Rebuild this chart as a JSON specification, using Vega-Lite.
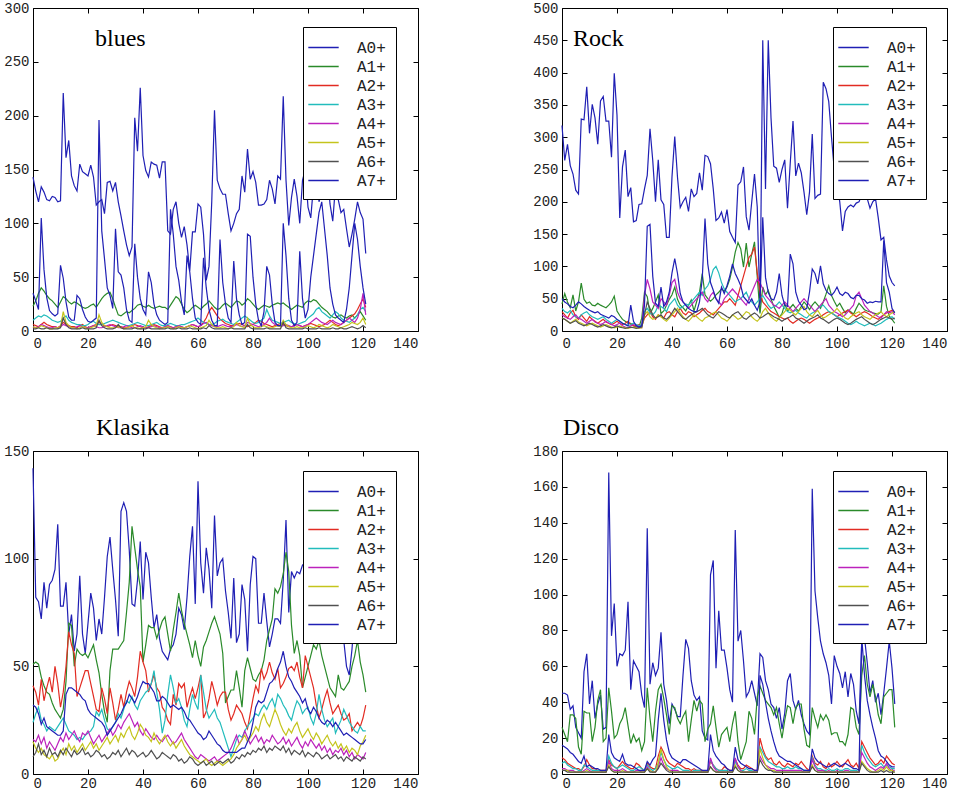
{
"$schema":"https://vega.github.io/schema/vega-lite/v6.json",
"background":"white",
"padding":{"left":3,"top":0,"right":0,"bottom":0},
"config":{
 "view":{"stroke":"black","strokeWidth":1},
 "axis":{"domain":false,"grid":false,"labelFont":"Liberation Mono","labelFontSize":14,"labelColor":"#222","tickColor":"#000","tickSize":-5},
 "axisX":{"labelPadding":10},
 "axisY":{"labelPadding":9},
 "legend":{"title":null,"strokeColor":"black","fillColor":"white","padding":10,"symbolType":"M-1.6,0L1.6,0","symbolStrokeWidth":1.5,"symbolSize":361,"labelFont":"Liberation Mono","labelFontSize":16,"labelColor":"#222","labelOffset":23,"rowPadding":0,"cornerRadius":0},
 "title":{"font":"Liberation Serif","fontSize":24,"fontWeight":"normal","color":"black"}
},
"datasets":{
"blues":[
{"x":0,"a":143,"b":23,"c":6,"d":10,"e":4,"f":4,"g":2,"h":35},
{"x":1,"a":130,"b":28,"c":5,"d":12,"e":3,"f":3,"g":2,"h":28},
{"x":2,"a":120,"b":35,"c":4,"d":14,"e":4,"f":3,"g":3,"h":20},
{"x":3,"a":134,"b":40,"c":6,"d":13,"e":6,"f":5,"g":2,"h":105},
{"x":4,"a":129,"b":37,"c":8,"d":15,"e":5,"f":4,"g":2,"h":57},
{"x":5,"a":122,"b":33,"c":6,"d":14,"e":4,"f":3,"g":3,"h":31},
{"x":6,"a":121,"b":30,"c":5,"d":12,"e":3,"f":2,"g":2,"h":19},
{"x":7,"a":125,"b":28,"c":4,"d":10,"e":3,"f":2,"g":2,"h":16},
{"x":8,"a":124,"b":25,"c":4,"d":9,"e":4,"f":3,"g":2,"h":14},
{"x":9,"a":120,"b":22,"c":3,"d":8,"e":3,"f":3,"g":2,"h":16},
{"x":10,"a":121,"b":27,"c":5,"d":9,"e":4,"f":4,"g":3,"h":61},
{"x":11,"a":221,"b":32,"c":8,"d":12,"e":6,"f":18,"g":12,"h":49},
{"x":12,"a":161,"b":30,"c":6,"d":14,"e":5,"f":8,"g":6,"h":27},
{"x":13,"a":177,"b":27,"c":5,"d":10,"e":4,"f":5,"g":3,"h":13},
{"x":14,"a":144,"b":25,"c":4,"d":8,"e":3,"f":3,"g":2,"h":10},
{"x":15,"a":135,"b":27,"c":4,"d":7,"e":3,"f":3,"g":2,"h":10},
{"x":16,"a":130,"b":26,"c":3,"d":6,"e":4,"f":2,"g":2,"h":33},
{"x":17,"a":155,"b":24,"c":5,"d":6,"e":5,"f":3,"g":2,"h":30},
{"x":18,"a":148,"b":22,"c":6,"d":5,"e":4,"f":4,"g":3,"h":20},
{"x":19,"a":146,"b":21,"c":4,"d":5,"e":3,"f":3,"g":2,"h":13},
{"x":20,"a":144,"b":22,"c":3,"d":6,"e":3,"f":2,"g":2,"h":9},
{"x":21,"a":154,"b":24,"c":4,"d":8,"e":4,"f":3,"g":2,"h":8},
{"x":22,"a":143,"b":25,"c":5,"d":9,"e":5,"f":4,"g":2,"h":10},
{"x":23,"a":117,"b":22,"c":6,"d":7,"e":4,"f":5,"g":3,"h":12},
{"x":24,"a":120,"b":26,"c":8,"d":6,"e":3,"f":15,"g":10,"h":196},
{"x":25,"a":122,"b":30,"c":6,"d":6,"e":3,"f":8,"g":5,"h":93},
{"x":26,"a":109,"b":33,"c":5,"d":7,"e":4,"f":5,"g":3,"h":67},
{"x":27,"a":138,"b":35,"c":4,"d":8,"e":5,"f":4,"g":2,"h":40},
{"x":28,"a":139,"b":36,"c":5,"d":9,"e":6,"f":3,"g":2,"h":33},
{"x":29,"a":130,"b":30,"c":6,"d":10,"e":5,"f":3,"g":2,"h":21},
{"x":30,"a":138,"b":22,"c":5,"d":9,"e":4,"f":3,"g":3,"h":95},
{"x":31,"a":120,"b":15,"c":4,"d":8,"e":3,"f":4,"g":6,"h":55},
{"x":32,"a":107,"b":14,"c":4,"d":7,"e":3,"f":3,"g":3,"h":52},
{"x":33,"a":93,"b":16,"c":3,"d":6,"e":4,"f":2,"g":2,"h":40},
{"x":34,"a":80,"b":18,"c":3,"d":5,"e":5,"f":3,"g":2,"h":20},
{"x":35,"a":70,"b":17,"c":4,"d":5,"e":4,"f":4,"g":2,"h":10},
{"x":36,"a":78,"b":19,"c":5,"d":6,"e":3,"f":5,"g":2,"h":8},
{"x":37,"a":198,"b":21,"c":6,"d":7,"e":3,"f":3,"g":3,"h":81},
{"x":38,"a":167,"b":24,"c":5,"d":8,"e":4,"f":3,"g":2,"h":50},
{"x":39,"a":226,"b":25,"c":4,"d":7,"e":5,"f":2,"g":2,"h":30},
{"x":40,"a":163,"b":23,"c":3,"d":6,"e":4,"f":3,"g":2,"h":20},
{"x":41,"a":149,"b":22,"c":3,"d":5,"e":3,"f":4,"g":2,"h":15},
{"x":42,"a":143,"b":24,"c":4,"d":5,"e":3,"f":10,"g":3,"h":55},
{"x":43,"a":157,"b":22,"c":5,"d":6,"e":4,"f":6,"g":2,"h":45},
{"x":44,"a":155,"b":21,"c":6,"d":7,"e":5,"f":4,"g":2,"h":25},
{"x":45,"a":154,"b":22,"c":5,"d":8,"e":4,"f":3,"g":2,"h":15},
{"x":46,"a":142,"b":23,"c":4,"d":6,"e":3,"f":2,"g":2,"h":10},
{"x":47,"a":157,"b":22,"c":3,"d":5,"e":3,"f":3,"g":2,"h":8},
{"x":48,"a":157,"b":22,"c":4,"d":5,"e":4,"f":3,"g":2,"h":6},
{"x":49,"a":93,"b":20,"c":5,"d":6,"e":5,"f":4,"g":3,"h":8},
{"x":50,"a":90,"b":24,"c":4,"d":7,"e":4,"f":3,"g":2,"h":113},
{"x":51,"a":113,"b":28,"c":3,"d":6,"e":3,"f":2,"g":2,"h":90},
{"x":52,"a":120,"b":32,"c":4,"d":5,"e":4,"f":3,"g":2,"h":60},
{"x":53,"a":100,"b":30,"c":5,"d":5,"e":5,"f":4,"g":3,"h":47},
{"x":54,"a":87,"b":25,"c":4,"d":6,"e":4,"f":3,"g":2,"h":27},
{"x":55,"a":97,"b":20,"c":3,"d":6,"e":3,"f":3,"g":2,"h":15},
{"x":56,"a":80,"b":17,"c":4,"d":7,"e":4,"f":4,"g":2,"h":70},
{"x":57,"a":56,"b":19,"c":5,"d":8,"e":5,"f":5,"g":3,"h":55},
{"x":58,"a":92,"b":22,"c":6,"d":9,"e":6,"f":4,"g":2,"h":30},
{"x":59,"a":92,"b":24,"c":5,"d":10,"e":5,"f":3,"g":2,"h":12},
{"x":60,"a":118,"b":22,"c":4,"d":12,"e":4,"f":2,"g":2,"h":8},
{"x":61,"a":115,"b":20,"c":5,"d":10,"e":5,"f":3,"g":2,"h":6},
{"x":62,"a":90,"b":23,"c":8,"d":8,"e":7,"f":4,"g":3,"h":68},
{"x":63,"a":47,"b":25,"c":12,"d":7,"e":8,"f":5,"g":2,"h":40},
{"x":64,"a":60,"b":28,"c":18,"d":6,"e":6,"f":10,"g":5,"h":20},
{"x":65,"a":120,"b":25,"c":22,"d":6,"e":5,"f":6,"g":3,"h":10},
{"x":66,"a":205,"b":22,"c":18,"d":7,"e":4,"f":4,"g":2,"h":5},
{"x":67,"a":140,"b":20,"c":14,"d":9,"e":4,"f":3,"g":2,"h":5},
{"x":68,"a":132,"b":21,"c":11,"d":10,"e":5,"f":3,"g":2,"h":85},
{"x":69,"a":127,"b":24,"c":9,"d":11,"e":6,"f":4,"g":2,"h":45},
{"x":70,"a":127,"b":26,"c":7,"d":9,"e":5,"f":3,"g":2,"h":25},
{"x":71,"a":109,"b":24,"c":6,"d":8,"e":4,"f":2,"g":2,"h":12},
{"x":72,"a":93,"b":22,"c":5,"d":7,"e":4,"f":3,"g":3,"h":8},
{"x":73,"a":100,"b":25,"c":5,"d":6,"e":5,"f":4,"g":2,"h":65},
{"x":74,"a":109,"b":28,"c":6,"d":8,"e":6,"f":8,"g":2,"h":30},
{"x":75,"a":113,"b":27,"c":7,"d":10,"e":5,"f":5,"g":2,"h":15},
{"x":76,"a":144,"b":24,"c":6,"d":12,"e":4,"f":4,"g":2,"h":6},
{"x":77,"a":129,"b":26,"c":5,"d":14,"e":5,"f":3,"g":2,"h":8},
{"x":78,"a":169,"b":30,"c":4,"d":12,"e":8,"f":12,"g":6,"h":90},
{"x":79,"a":141,"b":28,"c":5,"d":10,"e":7,"f":6,"g":3,"h":88},
{"x":80,"a":148,"b":25,"c":6,"d":8,"e":6,"f":4,"g":2,"h":50},
{"x":81,"a":138,"b":22,"c":8,"d":7,"e":5,"f":3,"g":2,"h":25},
{"x":82,"a":117,"b":20,"c":10,"d":8,"e":4,"f":3,"g":2,"h":10},
{"x":83,"a":117,"b":22,"c":9,"d":10,"e":5,"f":4,"g":2,"h":5},
{"x":84,"a":118,"b":24,"c":7,"d":12,"e":6,"f":5,"g":2,"h":18},
{"x":85,"a":122,"b":23,"c":6,"d":20,"e":8,"f":4,"g":3,"h":60},
{"x":86,"a":140,"b":22,"c":5,"d":14,"e":12,"f":3,"g":2,"h":52},
{"x":87,"a":132,"b":24,"c":4,"d":10,"e":8,"f":3,"g":2,"h":25},
{"x":88,"a":118,"b":25,"c":5,"d":9,"e":6,"f":4,"g":2,"h":8},
{"x":89,"a":144,"b":26,"c":6,"d":8,"e":5,"f":5,"g":2,"h":5},
{"x":90,"a":141,"b":25,"c":7,"d":7,"e":4,"f":4,"g":2,"h":5},
{"x":91,"a":218,"b":26,"c":6,"d":8,"e":5,"f":10,"g":8,"h":100},
{"x":92,"a":140,"b":24,"c":5,"d":9,"e":6,"f":6,"g":3,"h":70},
{"x":93,"a":98,"b":22,"c":4,"d":10,"e":5,"f":4,"g":2,"h":30},
{"x":94,"a":124,"b":20,"c":4,"d":8,"e":4,"f":3,"g":2,"h":10},
{"x":95,"a":141,"b":22,"c":5,"d":7,"e":5,"f":3,"g":2,"h":5},
{"x":96,"a":125,"b":24,"c":6,"d":6,"e":6,"f":4,"g":2,"h":8},
{"x":97,"a":100,"b":23,"c":5,"d":7,"e":5,"f":3,"g":2,"h":74},
{"x":98,"a":140,"b":22,"c":4,"d":8,"e":4,"f":3,"g":2,"h":30},
{"x":99,"a":150,"b":26,"c":5,"d":9,"e":5,"f":4,"g":3,"h":12},
{"x":100,"a":115,"b":28,"c":6,"d":12,"e":6,"f":5,"g":2,"h":20},
{"x":101,"a":105,"b":27,"c":7,"d":14,"e":8,"f":4,"g":2,"h":50},
{"x":102,"a":135,"b":29,"c":6,"d":16,"e":10,"f":3,"g":2,"h":70},
{"x":103,"a":150,"b":28,"c":5,"d":20,"e":12,"f":4,"g":2,"h":90},
{"x":104,"a":120,"b":25,"c":4,"d":22,"e":10,"f":6,"g":3,"h":110},
{"x":105,"a":130,"b":22,"c":5,"d":18,"e":8,"f":5,"g":2,"h":120},
{"x":106,"a":145,"b":20,"c":6,"d":16,"e":7,"f":4,"g":2,"h":95},
{"x":107,"a":150,"b":18,"c":8,"d":14,"e":6,"f":3,"g":2,"h":70},
{"x":108,"a":118,"b":15,"c":10,"d":12,"e":8,"f":4,"g":2,"h":40},
{"x":109,"a":102,"b":13,"c":8,"d":15,"e":10,"f":6,"g":3,"h":25},
{"x":110,"a":135,"b":12,"c":6,"d":18,"e":8,"f":5,"g":2,"h":15},
{"x":111,"a":122,"b":14,"c":5,"d":16,"e":7,"f":4,"g":2,"h":12},
{"x":112,"a":110,"b":15,"c":6,"d":12,"e":6,"f":3,"g":3,"h":10},
{"x":113,"a":113,"b":13,"c":8,"d":10,"e":8,"f":4,"g":2,"h":8},
{"x":114,"a":95,"b":12,"c":10,"d":9,"e":10,"f":5,"g":2,"h":20},
{"x":115,"a":78,"b":14,"c":12,"d":8,"e":12,"f":6,"g":3,"h":40},
{"x":116,"a":90,"b":15,"c":14,"d":10,"e":10,"f":8,"g":4,"h":70},
{"x":117,"a":104,"b":12,"c":16,"d":12,"e":8,"f":7,"g":3,"h":100},
{"x":118,"a":120,"b":15,"c":20,"d":15,"e":12,"f":6,"g":2,"h":85},
{"x":119,"a":110,"b":18,"c":25,"d":20,"e":20,"f":8,"g":3,"h":60},
{"x":120,"a":104,"b":14,"c":30,"d":22,"e":35,"f":12,"g":5,"h":40},
{"x":121,"a":72,"b":10,"c":22,"d":18,"e":15,"f":6,"g":3,"h":25}
],
"rock":[
{"x":0,"a":318,"b":42,"c":30,"d":35,"e":25,"f":20,"g":20,"h":50},
{"x":1,"a":264,"b":58,"c":25,"d":30,"e":22,"f":18,"g":18,"h":45},
{"x":2,"a":289,"b":45,"c":20,"d":28,"e":20,"f":15,"g":15,"h":42},
{"x":3,"a":256,"b":36,"c":28,"d":32,"e":18,"f":12,"g":12,"h":38},
{"x":4,"a":243,"b":56,"c":32,"d":25,"e":22,"f":15,"g":14,"h":36},
{"x":5,"a":218,"b":31,"c":22,"d":22,"e":25,"f":18,"g":16,"h":40},
{"x":6,"a":212,"b":45,"c":18,"d":20,"e":20,"f":14,"g":12,"h":45},
{"x":7,"a":328,"b":74,"c":25,"d":25,"e":18,"f":12,"g":10,"h":42},
{"x":8,"a":327,"b":49,"c":20,"d":28,"e":15,"f":10,"g":8,"h":38},
{"x":9,"a":378,"b":43,"c":15,"d":30,"e":12,"f":8,"g":10,"h":35},
{"x":10,"a":306,"b":45,"c":22,"d":25,"e":15,"f":10,"g":12,"h":32},
{"x":11,"a":351,"b":40,"c":18,"d":22,"e":18,"f":12,"g":10,"h":30},
{"x":12,"a":330,"b":39,"c":15,"d":20,"e":14,"f":10,"g":8,"h":28},
{"x":13,"a":289,"b":43,"c":12,"d":18,"e":12,"f":8,"g":6,"h":30},
{"x":14,"a":356,"b":40,"c":15,"d":20,"e":10,"f":6,"g":8,"h":26},
{"x":15,"a":363,"b":38,"c":18,"d":22,"e":12,"f":8,"g":10,"h":24},
{"x":16,"a":325,"b":36,"c":14,"d":18,"e":15,"f":10,"g":8,"h":22},
{"x":17,"a":325,"b":40,"c":12,"d":15,"e":12,"f":8,"g":6,"h":20},
{"x":18,"a":269,"b":45,"c":10,"d":12,"e":10,"f":6,"g":5,"h":24},
{"x":19,"a":399,"b":54,"c":12,"d":15,"e":8,"f":5,"g":6,"h":22},
{"x":20,"a":334,"b":31,"c":15,"d":18,"e":10,"f":6,"g":8,"h":18},
{"x":21,"a":175,"b":24,"c":12,"d":15,"e":12,"f":8,"g":6,"h":15},
{"x":22,"a":254,"b":18,"c":10,"d":12,"e":8,"f":6,"g":5,"h":12},
{"x":23,"a":280,"b":15,"c":12,"d":10,"e":6,"f":5,"g":4,"h":10},
{"x":24,"a":208,"b":12,"c":15,"d":8,"e":5,"f":4,"g":5,"h":8},
{"x":25,"a":222,"b":12,"c":10,"d":10,"e":8,"f":5,"g":6,"h":40},
{"x":26,"a":169,"b":8,"c":8,"d":12,"e":10,"f":6,"g":5,"h":15},
{"x":27,"a":171,"b":6,"c":8,"d":10,"e":8,"f":5,"g":4,"h":8},
{"x":28,"a":196,"b":6,"c":10,"d":8,"e":6,"f":4,"g":5,"h":6},
{"x":29,"a":197,"b":20,"c":8,"d":10,"e":5,"f":5,"g":6,"h":8},
{"x":30,"a":220,"b":60,"c":20,"d":30,"e":55,"f":25,"g":25,"h":40},
{"x":31,"a":241,"b":53,"c":25,"d":35,"e":80,"f":30,"g":45,"h":162},
{"x":32,"a":313,"b":27,"c":30,"d":28,"e":65,"f":22,"g":35,"h":165},
{"x":33,"a":264,"b":35,"c":22,"d":25,"e":45,"f":18,"g":25,"h":85},
{"x":34,"a":200,"b":45,"c":18,"d":30,"e":40,"f":20,"g":20,"h":43},
{"x":35,"a":265,"b":56,"c":25,"d":40,"e":35,"f":25,"g":22,"h":38},
{"x":36,"a":203,"b":27,"c":22,"d":38,"e":50,"f":22,"g":25,"h":68},
{"x":37,"a":196,"b":31,"c":20,"d":35,"e":45,"f":18,"g":20,"h":38},
{"x":38,"a":145,"b":40,"c":28,"d":30,"e":40,"f":15,"g":18,"h":45},
{"x":39,"a":145,"b":49,"c":30,"d":40,"e":55,"f":20,"g":22,"h":60},
{"x":40,"a":239,"b":56,"c":25,"d":45,"e":75,"f":25,"g":28,"h":90},
{"x":41,"a":301,"b":68,"c":22,"d":50,"e":80,"f":30,"g":35,"h":112},
{"x":42,"a":238,"b":49,"c":30,"d":40,"e":60,"f":35,"g":30,"h":89},
{"x":43,"a":191,"b":40,"c":35,"d":35,"e":50,"f":28,"g":25,"h":58},
{"x":44,"a":200,"b":36,"c":28,"d":38,"e":45,"f":22,"g":20,"h":45},
{"x":45,"a":207,"b":31,"c":25,"d":42,"e":40,"f":18,"g":18,"h":40},
{"x":46,"a":185,"b":40,"c":30,"d":40,"e":35,"f":15,"g":22,"h":35},
{"x":47,"a":220,"b":48,"c":28,"d":45,"e":40,"f":20,"g":25,"h":32},
{"x":48,"a":208,"b":31,"c":22,"d":50,"e":45,"f":25,"g":28,"h":30},
{"x":49,"a":213,"b":46,"c":25,"d":55,"e":50,"f":22,"g":30,"h":30},
{"x":50,"a":245,"b":60,"c":28,"d":60,"e":55,"f":18,"g":32,"h":45},
{"x":51,"a":218,"b":89,"c":32,"d":55,"e":60,"f":15,"g":35,"h":80},
{"x":52,"a":272,"b":56,"c":35,"d":65,"e":50,"f":20,"g":30,"h":174},
{"x":53,"a":270,"b":50,"c":30,"d":70,"e":45,"f":22,"g":25,"h":104},
{"x":54,"a":259,"b":46,"c":28,"d":80,"e":55,"f":25,"g":22,"h":75},
{"x":55,"a":220,"b":50,"c":25,"d":95,"e":60,"f":28,"g":20,"h":63},
{"x":56,"a":171,"b":56,"c":30,"d":100,"e":50,"f":30,"g":25,"h":50},
{"x":57,"a":175,"b":60,"c":35,"d":90,"e":45,"f":25,"g":30,"h":43},
{"x":58,"a":184,"b":65,"c":40,"d":75,"e":40,"f":20,"g":28,"h":68},
{"x":59,"a":167,"b":62,"c":45,"d":65,"e":50,"f":18,"g":25,"h":58},
{"x":60,"a":188,"b":68,"c":45,"d":60,"e":55,"f":15,"g":22,"h":70},
{"x":61,"a":154,"b":80,"c":50,"d":55,"e":60,"f":20,"g":20,"h":85},
{"x":62,"a":145,"b":99,"c":45,"d":50,"e":65,"f":25,"g":25,"h":104},
{"x":63,"a":137,"b":122,"c":40,"d":45,"e":60,"f":22,"g":28,"h":89},
{"x":64,"a":226,"b":137,"c":55,"d":48,"e":55,"f":18,"g":30,"h":80},
{"x":65,"a":231,"b":127,"c":70,"d":50,"e":50,"f":20,"g":25,"h":70},
{"x":66,"a":254,"b":99,"c":85,"d":55,"e":45,"f":25,"g":20,"h":53},
{"x":67,"a":177,"b":136,"c":100,"d":60,"e":40,"f":30,"g":18,"h":48},
{"x":68,"a":156,"b":99,"c":114,"d":50,"e":50,"f":28,"g":22,"h":43},
{"x":69,"a":200,"b":119,"c":119,"d":45,"e":60,"f":22,"g":25,"h":50},
{"x":70,"a":243,"b":138,"c":130,"d":40,"e":70,"f":18,"g":28,"h":40},
{"x":71,"a":192,"b":84,"c":90,"d":45,"e":80,"f":15,"g":25,"h":32},
{"x":72,"a":30,"b":27,"c":60,"d":50,"e":75,"f":20,"g":20,"h":45},
{"x":73,"a":450,"b":68,"c":45,"d":55,"e":65,"f":30,"g":22,"h":176},
{"x":74,"a":220,"b":56,"c":40,"d":48,"e":55,"f":35,"g":25,"h":83},
{"x":75,"a":450,"b":63,"c":35,"d":40,"e":50,"f":28,"g":28,"h":60},
{"x":76,"a":330,"b":50,"c":30,"d":35,"e":45,"f":22,"g":25,"h":50},
{"x":77,"a":255,"b":38,"c":28,"d":38,"e":40,"f":18,"g":22,"h":48},
{"x":78,"a":252,"b":30,"c":25,"d":40,"e":38,"f":15,"g":20,"h":60},
{"x":79,"a":230,"b":21,"c":22,"d":45,"e":35,"f":20,"g":18,"h":89},
{"x":80,"a":250,"b":27,"c":20,"d":40,"e":40,"f":25,"g":15,"h":55},
{"x":81,"a":265,"b":42,"c":18,"d":35,"e":45,"f":30,"g":18,"h":40},
{"x":82,"a":190,"b":31,"c":20,"d":30,"e":40,"f":35,"g":20,"h":38},
{"x":83,"a":260,"b":36,"c":15,"d":28,"e":35,"f":32,"g":22,"h":119},
{"x":84,"a":325,"b":41,"c":12,"d":30,"e":30,"f":28,"g":25,"h":104},
{"x":85,"a":240,"b":35,"c":15,"d":32,"e":35,"f":25,"g":20,"h":60},
{"x":86,"a":260,"b":31,"c":18,"d":28,"e":40,"f":30,"g":18,"h":46},
{"x":87,"a":245,"b":38,"c":20,"d":25,"e":45,"f":35,"g":15,"h":40},
{"x":88,"a":215,"b":45,"c":18,"d":22,"e":50,"f":38,"g":12,"h":33},
{"x":89,"a":180,"b":40,"c":15,"d":20,"e":45,"f":30,"g":15,"h":35},
{"x":90,"a":215,"b":33,"c":12,"d":25,"e":40,"f":25,"g":18,"h":60},
{"x":91,"a":305,"b":40,"c":15,"d":28,"e":35,"f":22,"g":20,"h":96},
{"x":92,"a":205,"b":45,"c":18,"d":30,"e":30,"f":28,"g":22,"h":89},
{"x":93,"a":210,"b":40,"c":20,"d":35,"e":35,"f":32,"g":25,"h":73},
{"x":94,"a":212,"b":35,"c":22,"d":38,"e":40,"f":25,"g":20,"h":101},
{"x":95,"a":385,"b":45,"c":25,"d":40,"e":45,"f":20,"g":18,"h":73},
{"x":96,"a":375,"b":57,"c":28,"d":35,"e":50,"f":22,"g":15,"h":63},
{"x":97,"a":355,"b":70,"c":30,"d":30,"e":40,"f":25,"g":12,"h":58},
{"x":98,"a":300,"b":55,"c":28,"d":28,"e":35,"f":28,"g":15,"h":55},
{"x":99,"a":250,"b":46,"c":25,"d":25,"e":30,"f":30,"g":18,"h":60},
{"x":100,"a":230,"b":38,"c":22,"d":22,"e":28,"f":35,"g":20,"h":68},
{"x":101,"a":200,"b":43,"c":25,"d":20,"e":25,"f":30,"g":18,"h":58},
{"x":102,"a":155,"b":35,"c":28,"d":18,"e":22,"f":25,"g":15,"h":55},
{"x":103,"a":185,"b":28,"c":30,"d":15,"e":25,"f":20,"g":12,"h":60},
{"x":104,"a":192,"b":33,"c":32,"d":12,"e":30,"f":18,"g":10,"h":58},
{"x":105,"a":195,"b":30,"c":28,"d":10,"e":35,"f":22,"g":12,"h":52},
{"x":106,"a":192,"b":26,"c":25,"d":12,"e":40,"f":25,"g":15,"h":50},
{"x":107,"a":198,"b":35,"c":22,"d":15,"e":55,"f":28,"g":18,"h":55},
{"x":108,"a":200,"b":43,"c":25,"d":12,"e":60,"f":30,"g":20,"h":55},
{"x":109,"a":210,"b":38,"c":28,"d":10,"e":50,"f":25,"g":22,"h":50},
{"x":110,"a":220,"b":33,"c":30,"d":8,"e":40,"f":22,"g":18,"h":48},
{"x":111,"a":205,"b":31,"c":28,"d":10,"e":35,"f":20,"g":15,"h":43},
{"x":112,"a":190,"b":30,"c":25,"d":12,"e":30,"f":18,"g":12,"h":45},
{"x":113,"a":200,"b":28,"c":22,"d":10,"e":28,"f":22,"g":10,"h":44},
{"x":114,"a":205,"b":27,"c":20,"d":8,"e":25,"f":25,"g":12,"h":46},
{"x":115,"a":175,"b":26,"c":18,"d":10,"e":22,"f":28,"g":15,"h":45},
{"x":116,"a":141,"b":30,"c":22,"d":12,"e":20,"f":30,"g":18,"h":45},
{"x":117,"a":145,"b":70,"c":25,"d":15,"e":25,"f":25,"g":20,"h":140},
{"x":118,"a":110,"b":38,"c":28,"d":18,"e":30,"f":22,"g":22,"h":75},
{"x":119,"a":85,"b":23,"c":30,"d":20,"e":28,"f":25,"g":20,"h":60},
{"x":120,"a":75,"b":18,"c":32,"d":22,"e":30,"f":28,"g":18,"h":35},
{"x":121,"a":70,"b":12,"c":28,"d":18,"e":25,"f":30,"g":20,"h":28}
],
"klasika":[
{"x":0,"a":142,"b":51,"c":41,"d":24,"e":16,"f":15,"g":8,"h":32},
{"x":1,"a":82,"b":52,"c":38,"d":28,"e":15,"f":12,"g":10,"h":31},
{"x":2,"a":80,"b":51,"c":32,"d":31,"e":18,"f":10,"g":14,"h":28},
{"x":3,"a":72,"b":45,"c":44,"d":25,"e":14,"f":12,"g":9,"h":23},
{"x":4,"a":89,"b":41,"c":34,"d":23,"e":17,"f":9,"g":11,"h":26},
{"x":5,"a":77,"b":38,"c":40,"d":20,"e":12,"f":8,"g":8,"h":22},
{"x":6,"a":88,"b":37,"c":45,"d":22,"e":15,"f":7,"g":12,"h":21},
{"x":7,"a":90,"b":33,"c":38,"d":21,"e":13,"f":9,"g":9,"h":20},
{"x":8,"a":95,"b":30,"c":50,"d":20,"e":11,"f":6,"g":10,"h":19},
{"x":9,"a":116,"b":28,"c":42,"d":22,"e":14,"f":7,"g":8,"h":18},
{"x":10,"a":78,"b":26,"c":31,"d":24,"e":17,"f":10,"g":11,"h":18},
{"x":11,"a":78,"b":30,"c":38,"d":26,"e":15,"f":12,"g":9,"h":20},
{"x":12,"a":89,"b":43,"c":50,"d":23,"e":19,"f":9,"g":12,"h":37},
{"x":13,"a":65,"b":70,"c":66,"d":20,"e":16,"f":14,"g":10,"h":40},
{"x":14,"a":74,"b":69,"c":60,"d":19,"e":18,"f":11,"g":8,"h":40},
{"x":15,"a":57,"b":50,"c":56,"d":18,"e":20,"f":13,"g":11,"h":39},
{"x":16,"a":65,"b":58,"c":36,"d":16,"e":17,"f":10,"g":9,"h":38},
{"x":17,"a":92,"b":56,"c":40,"d":17,"e":15,"f":12,"g":10,"h":37},
{"x":18,"a":65,"b":55,"c":44,"d":16,"e":19,"f":14,"g":12,"h":35},
{"x":19,"a":56,"b":56,"c":48,"d":18,"e":18,"f":11,"g":9,"h":34},
{"x":20,"a":70,"b":54,"c":48,"d":19,"e":20,"f":13,"g":10,"h":30},
{"x":21,"a":84,"b":57,"c":42,"d":20,"e":17,"f":15,"g":8,"h":28},
{"x":22,"a":77,"b":60,"c":36,"d":22,"e":14,"f":12,"g":9,"h":27},
{"x":23,"a":62,"b":53,"c":30,"d":29,"e":16,"f":14,"g":11,"h":26},
{"x":24,"a":72,"b":47,"c":29,"d":27,"e":18,"f":11,"g":10,"h":25},
{"x":25,"a":65,"b":37,"c":40,"d":30,"e":15,"f":13,"g":8,"h":24},
{"x":26,"a":82,"b":29,"c":35,"d":25,"e":17,"f":15,"g":9,"h":22},
{"x":27,"a":101,"b":24,"c":28,"d":21,"e":19,"f":17,"g":7,"h":18},
{"x":28,"a":110,"b":48,"c":40,"d":20,"e":21,"f":14,"g":8,"h":20},
{"x":29,"a":95,"b":58,"c":33,"d":22,"e":18,"f":16,"g":10,"h":22},
{"x":30,"a":81,"b":58,"c":25,"d":24,"e":20,"f":18,"g":9,"h":24},
{"x":31,"a":64,"b":58,"c":30,"d":28,"e":23,"f":15,"g":11,"h":26},
{"x":32,"a":122,"b":60,"c":37,"d":26,"e":21,"f":19,"g":8,"h":28},
{"x":33,"a":126,"b":62,"c":31,"d":30,"e":24,"f":17,"g":10,"h":31},
{"x":34,"a":122,"b":75,"c":38,"d":34,"e":26,"f":20,"g":12,"h":33},
{"x":35,"a":104,"b":89,"c":43,"d":33,"e":28,"f":22,"g":9,"h":37},
{"x":36,"a":79,"b":115,"c":40,"d":36,"e":25,"f":18,"g":11,"h":35},
{"x":37,"a":78,"b":105,"c":36,"d":32,"e":22,"f":16,"g":10,"h":33},
{"x":38,"a":90,"b":95,"c":45,"d":30,"e":24,"f":19,"g":8,"h":36},
{"x":39,"a":108,"b":87,"c":57,"d":34,"e":20,"f":23,"g":9,"h":40},
{"x":40,"a":81,"b":52,"c":52,"d":36,"e":18,"f":21,"g":10,"h":43},
{"x":41,"a":103,"b":60,"c":48,"d":38,"e":21,"f":18,"g":8,"h":42},
{"x":42,"a":98,"b":69,"c":38,"d":39,"e":19,"f":17,"g":9,"h":42},
{"x":43,"a":82,"b":68,"c":42,"d":42,"e":17,"f":15,"g":11,"h":40},
{"x":44,"a":68,"b":68,"c":46,"d":48,"e":16,"f":19,"g":9,"h":38},
{"x":45,"a":74,"b":63,"c":40,"d":38,"e":18,"f":16,"g":7,"h":34},
{"x":46,"a":63,"b":67,"c":38,"d":30,"e":16,"f":14,"g":8,"h":34},
{"x":47,"a":57,"b":71,"c":31,"d":19,"e":15,"f":16,"g":10,"h":36},
{"x":48,"a":55,"b":73,"c":29,"d":25,"e":17,"f":18,"g":9,"h":35},
{"x":49,"a":53,"b":65,"c":25,"d":37,"e":18,"f":15,"g":8,"h":33},
{"x":50,"a":58,"b":57,"c":23,"d":46,"e":16,"f":13,"g":7,"h":31},
{"x":51,"a":60,"b":67,"c":37,"d":40,"e":14,"f":15,"g":9,"h":32},
{"x":52,"a":65,"b":75,"c":32,"d":33,"e":15,"f":12,"g":8,"h":31},
{"x":53,"a":77,"b":84,"c":42,"d":35,"e":17,"f":14,"g":6,"h":30},
{"x":54,"a":74,"b":76,"c":40,"d":31,"e":19,"f":16,"g":7,"h":31},
{"x":55,"a":67,"b":70,"c":42,"d":25,"e":16,"f":13,"g":5,"h":29},
{"x":56,"a":82,"b":65,"c":31,"d":22,"e":14,"f":11,"g":6,"h":26},
{"x":57,"a":101,"b":60,"c":36,"d":30,"e":12,"f":9,"g":8,"h":25},
{"x":58,"a":115,"b":54,"c":40,"d":37,"e":10,"f":8,"g":7,"h":23},
{"x":59,"a":79,"b":62,"c":35,"d":33,"e":8,"f":7,"g":5,"h":21},
{"x":60,"a":136,"b":55,"c":40,"d":30,"e":7,"f":6,"g":4,"h":19},
{"x":61,"a":98,"b":50,"c":46,"d":46,"e":9,"f":5,"g":5,"h":18},
{"x":62,"a":84,"b":59,"c":26,"d":38,"e":8,"f":6,"g":6,"h":16},
{"x":63,"a":105,"b":62,"c":29,"d":30,"e":7,"f":7,"g":4,"h":17},
{"x":64,"a":95,"b":66,"c":35,"d":26,"e":6,"f":5,"g":5,"h":20},
{"x":65,"a":77,"b":70,"c":43,"d":28,"e":7,"f":4,"g":6,"h":18},
{"x":66,"a":120,"b":73,"c":38,"d":30,"e":8,"f":5,"g":4,"h":16},
{"x":67,"a":92,"b":69,"c":32,"d":26,"e":6,"f":6,"g":5,"h":14},
{"x":68,"a":98,"b":65,"c":36,"d":24,"e":7,"f":5,"g":6,"h":13},
{"x":69,"a":100,"b":56,"c":38,"d":20,"e":8,"f":4,"g":5,"h":11},
{"x":70,"a":85,"b":33,"c":38,"d":16,"e":9,"f":5,"g":6,"h":10},
{"x":71,"a":75,"b":36,"c":30,"d":12,"e":10,"f":6,"g":7,"h":10},
{"x":72,"a":63,"b":39,"c":25,"d":8,"e":12,"f":7,"g":5,"h":10},
{"x":73,"a":91,"b":39,"c":28,"d":12,"e":15,"f":9,"g":6,"h":10},
{"x":74,"a":61,"b":48,"c":32,"d":16,"e":18,"f":12,"g":8,"h":10},
{"x":75,"a":65,"b":40,"c":30,"d":18,"e":14,"f":14,"g":7,"h":11},
{"x":76,"a":88,"b":31,"c":28,"d":17,"e":16,"f":16,"g":9,"h":12},
{"x":77,"a":81,"b":48,"c":24,"d":20,"e":20,"f":18,"g":8,"h":12},
{"x":78,"a":57,"b":54,"c":21,"d":22,"e":17,"f":15,"g":10,"h":15},
{"x":79,"a":88,"b":49,"c":28,"d":24,"e":14,"f":17,"g":9,"h":18},
{"x":80,"a":101,"b":44,"c":35,"d":26,"e":16,"f":19,"g":11,"h":24},
{"x":81,"a":100,"b":43,"c":41,"d":28,"e":18,"f":22,"g":10,"h":31},
{"x":82,"a":70,"b":46,"c":38,"d":27,"e":15,"f":20,"g":12,"h":34},
{"x":83,"a":70,"b":48,"c":49,"d":30,"e":17,"f":25,"g":11,"h":33},
{"x":84,"a":84,"b":53,"c":44,"d":32,"e":14,"f":28,"g":13,"h":34},
{"x":85,"a":71,"b":62,"c":47,"d":30,"e":16,"f":24,"g":10,"h":38},
{"x":86,"a":59,"b":67,"c":52,"d":33,"e":15,"f":22,"g":12,"h":42},
{"x":87,"a":65,"b":72,"c":47,"d":35,"e":18,"f":26,"g":11,"h":43},
{"x":88,"a":72,"b":86,"c":44,"d":31,"e":16,"f":30,"g":13,"h":45},
{"x":89,"a":72,"b":84,"c":49,"d":37,"e":14,"f":27,"g":12,"h":49},
{"x":90,"a":70,"b":87,"c":40,"d":35,"e":15,"f":23,"g":11,"h":52},
{"x":91,"a":90,"b":93,"c":42,"d":32,"e":17,"f":20,"g":13,"h":57},
{"x":92,"a":118,"b":103,"c":45,"d":30,"e":14,"f":18,"g":10,"h":50},
{"x":93,"a":75,"b":94,"c":49,"d":27,"e":16,"f":21,"g":12,"h":45},
{"x":94,"a":94,"b":69,"c":50,"d":25,"e":13,"f":19,"g":9,"h":43},
{"x":95,"a":91,"b":56,"c":48,"d":30,"e":15,"f":22,"g":11,"h":40},
{"x":96,"a":94,"b":62,"c":52,"d":34,"e":17,"f":24,"g":10,"h":38},
{"x":97,"a":93,"b":55,"c":45,"d":32,"e":14,"f":20,"g":9,"h":36},
{"x":98,"a":97,"b":40,"c":40,"d":28,"e":12,"f":17,"g":11,"h":33},
{"x":99,"a":98,"b":45,"c":55,"d":30,"e":15,"f":19,"g":8,"h":35},
{"x":100,"a":95,"b":50,"c":50,"d":31,"e":13,"f":21,"g":10,"h":30},
{"x":101,"a":105,"b":55,"c":45,"d":26,"e":16,"f":18,"g":9,"h":28},
{"x":102,"a":90,"b":60,"c":40,"d":23,"e":14,"f":16,"g":8,"h":31},
{"x":103,"a":100,"b":58,"c":32,"d":28,"e":12,"f":19,"g":10,"h":29},
{"x":104,"a":85,"b":62,"c":26,"d":37,"e":14,"f":17,"g":9,"h":26},
{"x":105,"a":95,"b":55,"c":30,"d":30,"e":11,"f":14,"g":7,"h":24},
{"x":106,"a":80,"b":50,"c":35,"d":25,"e":13,"f":16,"g":8,"h":23},
{"x":107,"a":88,"b":45,"c":39,"d":22,"e":10,"f":18,"g":9,"h":25},
{"x":108,"a":100,"b":40,"c":33,"d":24,"e":12,"f":15,"g":7,"h":24},
{"x":109,"a":92,"b":38,"c":28,"d":26,"e":9,"f":13,"g":8,"h":22},
{"x":110,"a":85,"b":36,"c":30,"d":19,"e":11,"f":15,"g":9,"h":24},
{"x":111,"a":78,"b":46,"c":32,"d":22,"e":10,"f":12,"g":7,"h":22},
{"x":112,"a":70,"b":40,"c":28,"d":25,"e":12,"f":14,"g":8,"h":20},
{"x":113,"a":62,"b":39,"c":25,"d":30,"e":9,"f":11,"g":6,"h":18},
{"x":114,"a":50,"b":41,"c":26,"d":27,"e":11,"f":13,"g":8,"h":19},
{"x":115,"a":46,"b":43,"c":28,"d":24,"e":8,"f":10,"g":7,"h":18},
{"x":116,"a":58,"b":50,"c":20,"d":22,"e":10,"f":12,"g":6,"h":17},
{"x":117,"a":75,"b":55,"c":22,"d":20,"e":7,"f":11,"g":8,"h":16},
{"x":118,"a":70,"b":62,"c":24,"d":19,"e":9,"f":9,"g":7,"h":15},
{"x":119,"a":80,"b":52,"c":22,"d":22,"e":8,"f":13,"g":6,"h":14},
{"x":120,"a":68,"b":46,"c":26,"d":20,"e":7,"f":15,"g":8,"h":14},
{"x":121,"a":72,"b":38,"c":32,"d":20,"e":10,"f":18,"g":7,"h":16}
],
"disco":[
{"x":0,"a":45,"b":26,"c":9,"d":6,"e":3,"f":2,"g":2,"h":16},
{"x":1,"a":45,"b":22,"c":8,"d":7,"e":3,"f":2,"g":2,"h":15},
{"x":2,"a":44,"b":18,"c":6,"d":5,"e":2,"f":2,"g":1,"h":14},
{"x":3,"a":36,"b":33,"c":5,"d":4,"e":2,"f":1,"g":1,"h":12},
{"x":4,"a":38,"b":33,"c":4,"d":3,"e":2,"f":1,"g":1,"h":11},
{"x":5,"a":26,"b":31,"c":3,"d":3,"e":1,"f":1,"g":1,"h":9},
{"x":6,"a":23,"b":15,"c":3,"d":2,"e":1,"f":1,"g":1,"h":7},
{"x":7,"a":20,"b":11,"c":2,"d":2,"e":1,"f":1,"g":1,"h":6},
{"x":8,"a":57,"b":35,"c":4,"d":5,"e":2,"f":1,"g":1,"h":10},
{"x":9,"a":67,"b":34,"c":8,"d":4,"e":3,"f":2,"g":1,"h":4},
{"x":10,"a":39,"b":34,"c":5,"d":3,"e":2,"f":1,"g":1,"h":5},
{"x":11,"a":52,"b":18,"c":3,"d":2,"e":1,"f":1,"g":1,"h":4},
{"x":12,"a":31,"b":26,"c":3,"d":2,"e":1,"f":1,"g":1,"h":3},
{"x":13,"a":39,"b":41,"c":2,"d":2,"e":1,"f":1,"g":1,"h":3},
{"x":14,"a":44,"b":47,"c":2,"d":2,"e":1,"f":1,"g":1,"h":2},
{"x":15,"a":25,"b":18,"c":2,"d":1,"e":1,"f":1,"g":1,"h":2},
{"x":16,"a":26,"b":20,"c":2,"d":1,"e":1,"f":1,"g":1,"h":2},
{"x":17,"a":168,"b":48,"c":8,"d":10,"e":7,"f":5,"g":4,"h":22},
{"x":18,"a":77,"b":35,"c":5,"d":6,"e":3,"f":2,"g":2,"h":12},
{"x":19,"a":95,"b":20,"c":4,"d":4,"e":2,"f":1,"g":1,"h":9},
{"x":20,"a":60,"b":22,"c":3,"d":3,"e":2,"f":1,"g":1,"h":8},
{"x":21,"a":67,"b":28,"c":5,"d":4,"e":2,"f":1,"g":1,"h":7},
{"x":22,"a":66,"b":31,"c":7,"d":5,"e":3,"f":2,"g":1,"h":11},
{"x":23,"a":69,"b":37,"c":5,"d":4,"e":2,"f":1,"g":1,"h":6},
{"x":24,"a":96,"b":27,"c":4,"d":3,"e":1,"f":1,"g":1,"h":5},
{"x":25,"a":47,"b":17,"c":3,"d":2,"e":1,"f":1,"g":1,"h":5},
{"x":26,"a":63,"b":22,"c":3,"d":2,"e":1,"f":1,"g":1,"h":4},
{"x":27,"a":60,"b":18,"c":6,"d":3,"e":2,"f":1,"g":1,"h":3},
{"x":28,"a":57,"b":20,"c":5,"d":4,"e":2,"f":1,"g":1,"h":2},
{"x":29,"a":44,"b":13,"c":3,"d":3,"e":1,"f":1,"g":1,"h":2},
{"x":30,"a":37,"b":18,"c":2,"d":2,"e":1,"f":1,"g":1,"h":2},
{"x":31,"a":137,"b":48,"c":6,"d":5,"e":4,"f":3,"g":3,"h":7},
{"x":32,"a":50,"b":31,"c":4,"d":3,"e":2,"f":2,"g":1,"h":5},
{"x":33,"a":62,"b":18,"c":3,"d":2,"e":1,"f":1,"g":1,"h":8},
{"x":34,"a":55,"b":35,"c":3,"d":3,"e":1,"f":1,"g":1,"h":10},
{"x":35,"a":59,"b":47,"c":10,"d":6,"e":4,"f":6,"g":3,"h":30},
{"x":36,"a":79,"b":50,"c":15,"d":12,"e":9,"f":14,"g":6,"h":45},
{"x":37,"a":50,"b":42,"c":12,"d":8,"e":5,"f":8,"g":4,"h":30},
{"x":38,"a":41,"b":33,"c":8,"d":5,"e":3,"f":4,"g":2,"h":19},
{"x":39,"a":28,"b":22,"c":6,"d":4,"e":2,"f":2,"g":1,"h":12},
{"x":40,"a":39,"b":38,"c":5,"d":3,"e":2,"f":1,"g":1,"h":9},
{"x":41,"a":36,"b":37,"c":4,"d":3,"e":2,"f":1,"g":1,"h":8},
{"x":42,"a":32,"b":31,"c":6,"d":4,"e":2,"f":1,"g":1,"h":7},
{"x":43,"a":32,"b":28,"c":5,"d":3,"e":1,"f":1,"g":1,"h":6},
{"x":44,"a":55,"b":32,"c":4,"d":2,"e":1,"f":1,"g":1,"h":8},
{"x":45,"a":75,"b":35,"c":3,"d":2,"e":1,"f":1,"g":1,"h":8},
{"x":46,"a":70,"b":18,"c":3,"d":2,"e":1,"f":1,"g":1,"h":7},
{"x":47,"a":52,"b":30,"c":2,"d":1,"e":1,"f":1,"g":1,"h":6},
{"x":48,"a":44,"b":41,"c":3,"d":2,"e":1,"f":1,"g":1,"h":5},
{"x":49,"a":41,"b":35,"c":2,"d":2,"e":1,"f":1,"g":1,"h":4},
{"x":50,"a":43,"b":41,"c":2,"d":2,"e":1,"f":1,"g":1,"h":3},
{"x":51,"a":24,"b":39,"c":2,"d":1,"e":1,"f":1,"g":1,"h":2},
{"x":52,"a":20,"b":18,"c":1,"d":1,"e":1,"f":1,"g":1,"h":2},
{"x":53,"a":19,"b":25,"c":1,"d":1,"e":1,"f":1,"g":1,"h":2},
{"x":54,"a":111,"b":28,"c":7,"d":8,"e":9,"f":4,"g":4,"h":22},
{"x":55,"a":119,"b":38,"c":5,"d":5,"e":4,"f":2,"g":2,"h":13},
{"x":56,"a":59,"b":26,"c":3,"d":3,"e":2,"f":1,"g":1,"h":10},
{"x":57,"a":91,"b":15,"c":2,"d":2,"e":1,"f":1,"g":1,"h":8},
{"x":58,"a":69,"b":22,"c":2,"d":2,"e":1,"f":1,"g":1,"h":6},
{"x":59,"a":69,"b":24,"c":4,"d":2,"e":1,"f":1,"g":1,"h":5},
{"x":60,"a":59,"b":26,"c":3,"d":2,"e":1,"f":1,"g":1,"h":3},
{"x":61,"a":47,"b":18,"c":2,"d":1,"e":1,"f":1,"g":1,"h":2},
{"x":62,"a":40,"b":28,"c":2,"d":1,"e":1,"f":1,"g":1,"h":2},
{"x":63,"a":136,"b":35,"c":8,"d":7,"e":9,"f":5,"g":4,"h":15},
{"x":64,"a":74,"b":18,"c":5,"d":4,"e":4,"f":2,"g":2,"h":8},
{"x":65,"a":80,"b":8,"c":3,"d":2,"e":2,"f":1,"g":1,"h":6},
{"x":66,"a":63,"b":13,"c":3,"d":2,"e":1,"f":1,"g":1,"h":5},
{"x":67,"a":43,"b":18,"c":5,"d":3,"e":1,"f":1,"g":1,"h":4},
{"x":68,"a":46,"b":35,"c":4,"d":2,"e":1,"f":1,"g":1,"h":3},
{"x":69,"a":52,"b":31,"c":3,"d":2,"e":1,"f":1,"g":1,"h":3},
{"x":70,"a":45,"b":22,"c":2,"d":1,"e":1,"f":1,"g":1,"h":2},
{"x":71,"a":38,"b":43,"c":2,"d":1,"e":1,"f":1,"g":1,"h":2},
{"x":72,"a":67,"b":49,"c":20,"d":15,"e":10,"f":14,"g":8,"h":55},
{"x":73,"a":65,"b":45,"c":14,"d":12,"e":7,"f":9,"g":5,"h":50},
{"x":74,"a":52,"b":41,"c":10,"d":9,"e":5,"f":5,"g":3,"h":40},
{"x":75,"a":47,"b":39,"c":8,"d":7,"e":4,"f":3,"g":2,"h":31},
{"x":76,"a":39,"b":37,"c":9,"d":6,"e":3,"f":2,"g":2,"h":24},
{"x":77,"a":37,"b":33,"c":6,"d":5,"e":3,"f":2,"g":1,"h":18},
{"x":78,"a":31,"b":37,"c":5,"d":4,"e":2,"f":1,"g":1,"h":13},
{"x":79,"a":37,"b":28,"c":7,"d":4,"e":2,"f":1,"g":1,"h":10},
{"x":80,"a":25,"b":20,"c":5,"d":3,"e":2,"f":1,"g":1,"h":9},
{"x":81,"a":34,"b":30,"c":4,"d":3,"e":2,"f":1,"g":1,"h":8},
{"x":82,"a":52,"b":38,"c":6,"d":4,"e":2,"f":1,"g":1,"h":7},
{"x":83,"a":56,"b":37,"c":5,"d":3,"e":2,"f":1,"g":1,"h":7},
{"x":84,"a":41,"b":28,"c":4,"d":3,"e":2,"f":1,"g":1,"h":6},
{"x":85,"a":36,"b":37,"c":6,"d":4,"e":2,"f":1,"g":1,"h":5},
{"x":86,"a":41,"b":39,"c":5,"d":3,"e":2,"f":1,"g":1,"h":4},
{"x":87,"a":33,"b":39,"c":7,"d":3,"e":2,"f":1,"g":1,"h":3},
{"x":88,"a":28,"b":25,"c":5,"d":2,"e":1,"f":1,"g":1,"h":2},
{"x":89,"a":24,"b":16,"c":3,"d":2,"e":1,"f":1,"g":1,"h":2},
{"x":90,"a":22,"b":15,"c":2,"d":1,"e":1,"f":1,"g":1,"h":2},
{"x":91,"a":159,"b":37,"c":10,"d":9,"e":8,"f":5,"g":4,"h":14},
{"x":92,"a":102,"b":31,"c":6,"d":5,"e":4,"f":2,"g":2,"h":9},
{"x":93,"a":87,"b":26,"c":5,"d":3,"e":2,"f":1,"g":1,"h":7},
{"x":94,"a":74,"b":33,"c":7,"d":3,"e":2,"f":1,"g":1,"h":6},
{"x":95,"a":67,"b":30,"c":4,"d":2,"e":2,"f":1,"g":1,"h":5},
{"x":96,"a":62,"b":33,"c":3,"d":2,"e":1,"f":1,"g":1,"h":4},
{"x":97,"a":55,"b":30,"c":6,"d":3,"e":2,"f":1,"g":1,"h":4},
{"x":98,"a":39,"b":22,"c":4,"d":2,"e":1,"f":1,"g":1,"h":5},
{"x":99,"a":66,"b":23,"c":5,"d":2,"e":1,"f":1,"g":1,"h":6},
{"x":100,"a":60,"b":23,"c":7,"d":3,"e":2,"f":1,"g":1,"h":5},
{"x":101,"a":56,"b":18,"c":5,"d":2,"e":1,"f":1,"g":1,"h":4},
{"x":102,"a":48,"b":18,"c":4,"d":2,"e":1,"f":1,"g":1,"h":5},
{"x":103,"a":57,"b":16,"c":6,"d":3,"e":2,"f":1,"g":1,"h":6},
{"x":104,"a":43,"b":22,"c":8,"d":3,"e":2,"f":1,"g":1,"h":5},
{"x":105,"a":56,"b":37,"c":5,"d":2,"e":1,"f":1,"g":1,"h":4},
{"x":106,"a":50,"b":36,"c":4,"d":2,"e":1,"f":1,"g":1,"h":3},
{"x":107,"a":35,"b":26,"c":6,"d":2,"e":1,"f":1,"g":1,"h":3},
{"x":108,"a":28,"b":22,"c":3,"d":1,"e":1,"f":1,"g":1,"h":2},
{"x":109,"a":74,"b":55,"c":18,"d":16,"e":12,"f":7,"g":6,"h":76},
{"x":110,"a":76,"b":66,"c":15,"d":12,"e":9,"f":5,"g":4,"h":55},
{"x":111,"a":62,"b":50,"c":12,"d":9,"e":6,"f":3,"g":2,"h":41},
{"x":112,"a":45,"b":43,"c":9,"d":7,"e":4,"f":2,"g":1,"h":33},
{"x":113,"a":52,"b":50,"c":7,"d":5,"e":3,"f":1,"g":1,"h":26},
{"x":114,"a":40,"b":43,"c":5,"d":4,"e":2,"f":1,"g":1,"h":20},
{"x":115,"a":45,"b":33,"c":6,"d":5,"e":3,"f":2,"g":1,"h":13},
{"x":116,"a":33,"b":28,"c":8,"d":6,"e":4,"f":3,"g":2,"h":10},
{"x":117,"a":45,"b":43,"c":6,"d":4,"e":3,"f":2,"g":1,"h":9},
{"x":118,"a":59,"b":45,"c":10,"d":5,"e":6,"f":4,"g":2,"h":7},
{"x":119,"a":74,"b":47,"c":8,"d":4,"e":3,"f":2,"g":1,"h":5},
{"x":120,"a":59,"b":47,"c":6,"d":3,"e":2,"f":2,"g":1,"h":4},
{"x":121,"a":39,"b":26,"c":5,"d":3,"e":2,"f":1,"g":1,"h":4}
]
},
"columns":2,
"bounds":"flush",
"spacing":{"row":120,"column":144},
"resolve":{"scale":{"color":"independent"},"legend":{"color":"independent"}},
"concat":[
{"width":385,"height":323,"data":{"name":"blues"},
 "title":{"text":"blues","anchor":"start","frame":"group","offset":-50,"dx":62},
 "transform":[{"fold":["a","b","c","d","e","f","g","h"],"as":["s","y"]}],
 "layer":[
  {"mark":{"type":"line","strokeWidth":1.2},
   "encoding":{
    "x":{"field":"x","type":"quantitative","scale":{"domain":[0,140],"nice":false},"axis":{"title":null,"values":[0,20,40,60,80,100,120,140]}},
    "y":{"field":"y","type":"quantitative","scale":{"domain":[0,300],"nice":false},"axis":{"title":null,"values":[0,50,100,150,200,250,300]}},
    "color":{"field":"s","type":"nominal","scale":{"domain":["a","b","c","d","e","f","g","h"],"range":["#1f1fb4","#2a8a2a","#e22b22","#22bcbc","#bc22bc","#c4c41c","#505050","#1f1fb4"]},
     "legend":{"orient":"none","legendX":270,"legendY":19,"labelExpr":"'A' + indexof('abcdefgh', datum.label) + '+'"}}
   }},
  {"mark":{"type":"point","opacity":0},
   "encoding":{
    "x":{"field":"x","type":"quantitative","axis":{"orient":"top","title":null,"labels":false,"values":[0,20,40,60,80,100,120,140]}},
    "y":{"field":"y","type":"quantitative","axis":{"orient":"right","title":null,"labels":false,"values":[0,50,100,150,200,250,300]}}
   }}
 ],
 "resolve":{"axis":{"x":"independent","y":"independent"}}
},
{"width":385,"height":323,"data":{"name":"rock"},
 "title":{"text":"Rock","anchor":"start","frame":"group","offset":-50,"dx":11},
 "transform":[{"fold":["a","b","c","d","e","f","g","h"],"as":["s","y"]}],
 "layer":[
  {"mark":{"type":"line","strokeWidth":1.2},
   "encoding":{
    "x":{"field":"x","type":"quantitative","scale":{"domain":[0,140],"nice":false},"axis":{"title":null,"values":[0,20,40,60,80,100,120,140]}},
    "y":{"field":"y","type":"quantitative","scale":{"domain":[0,500],"nice":false},"axis":{"title":null,"values":[0,50,100,150,200,250,300,350,400,450,500]}},
    "color":{"field":"s","type":"nominal","scale":{"domain":["a","b","c","d","e","f","g","h"],"range":["#1f1fb4","#2a8a2a","#e22b22","#22bcbc","#bc22bc","#c4c41c","#505050","#1f1fb4"]},
     "legend":{"orient":"none","legendX":271,"legendY":19,"labelExpr":"'A' + indexof('abcdefgh', datum.label) + '+'"}}
   }},
  {"mark":{"type":"point","opacity":0},
   "encoding":{
    "x":{"field":"x","type":"quantitative","axis":{"orient":"top","title":null,"labels":false,"values":[0,20,40,60,80,100,120,140]}},
    "y":{"field":"y","type":"quantitative","axis":{"orient":"right","title":null,"labels":false,"values":[0,50,100,150,200,250,300,350,400,450,500]}}
   }}
 ],
 "resolve":{"axis":{"x":"independent","y":"independent"}}
},
{"width":385,"height":323,"data":{"name":"klasika"},
 "title":{"text":"Klasika","anchor":"start","frame":"group","offset":4,"dx":63},
 "transform":[{"fold":["a","b","c","d","e","f","g","h"],"as":["s","y"]}],
 "layer":[
  {"mark":{"type":"line","strokeWidth":1.2},
   "encoding":{
    "x":{"field":"x","type":"quantitative","scale":{"domain":[0,140],"nice":false},"axis":{"title":null,"labelPadding":7,"values":[0,20,40,60,80,100,120,140]}},
    "y":{"field":"y","type":"quantitative","scale":{"domain":[0,150],"nice":false},"axis":{"title":null,"values":[0,50,100,150]}},
    "color":{"field":"s","type":"nominal","scale":{"domain":["a","b","c","d","e","f","g","h"],"range":["#1f1fb4","#2a8a2a","#e22b22","#22bcbc","#bc22bc","#c4c41c","#505050","#1f1fb4"]},
     "legend":{"orient":"none","legendX":270,"legendY":20,"labelExpr":"'A' + indexof('abcdefgh', datum.label) + '+'"}}
   }},
  {"mark":{"type":"point","opacity":0},
   "encoding":{
    "x":{"field":"x","type":"quantitative","axis":{"orient":"top","title":null,"labels":false,"values":[0,20,40,60,80,100,120,140]}},
    "y":{"field":"y","type":"quantitative","axis":{"orient":"right","title":null,"labels":false,"values":[0,50,100,150]}}
   }}
 ],
 "resolve":{"axis":{"x":"independent","y":"independent"}}
},
{"width":385,"height":323,"data":{"name":"disco"},
 "title":{"text":"Disco","anchor":"start","frame":"group","offset":4,"dx":1},
 "transform":[{"fold":["a","b","c","d","e","f","g","h"],"as":["s","y"]}],
 "layer":[
  {"mark":{"type":"line","strokeWidth":1.2},
   "encoding":{
    "x":{"field":"x","type":"quantitative","scale":{"domain":[0,140],"nice":false},"axis":{"title":null,"labelPadding":7,"values":[0,20,40,60,80,100,120,140]}},
    "y":{"field":"y","type":"quantitative","scale":{"domain":[0,180],"nice":false},"axis":{"title":null,"values":[0,20,40,60,80,100,120,140,160,180]}},
    "color":{"field":"s","type":"nominal","scale":{"domain":["a","b","c","d","e","f","g","h"],"range":["#1f1fb4","#2a8a2a","#e22b22","#22bcbc","#bc22bc","#c4c41c","#505050","#1f1fb4"]},
     "legend":{"orient":"none","legendX":271,"legendY":20,"labelExpr":"'A' + indexof('abcdefgh', datum.label) + '+'"}}
   }},
  {"mark":{"type":"point","opacity":0},
   "encoding":{
    "x":{"field":"x","type":"quantitative","axis":{"orient":"top","title":null,"labels":false,"values":[0,20,40,60,80,100,120,140]}},
    "y":{"field":"y","type":"quantitative","axis":{"orient":"right","title":null,"labels":false,"values":[0,20,40,60,80,100,120,140,160,180]}}
   }}
 ],
 "resolve":{"axis":{"x":"independent","y":"independent"}}
}
]
}
